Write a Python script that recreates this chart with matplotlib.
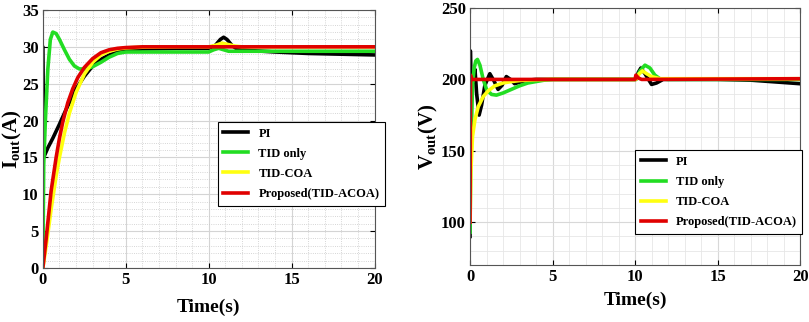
import numpy as np
import matplotlib.pyplot as plt
from matplotlib.ticker import MultipleLocator

plt.rcParams['font.family'] = 'Liberation Serif'
plt.rcParams['font.weight'] = 'bold'
plt.rcParams['mathtext.fontset'] = 'custom'
plt.rcParams['mathtext.rm'] = 'Liberation Serif:bold'
plt.rcParams['mathtext.bf'] = 'Liberation Serif:bold'
plt.rcParams['mathtext.it'] = 'Liberation Serif:bold'

labels = ['PI', 'TID only', 'TID-COA', 'Proposed(TID-ACOA)']
colors = ['black', '#22dd22', '#ffff10', '#e00000']

# --- I_out (A) ---
i_pi_t = [0, 0.001, 0.05, 0.3, 0.6, 1.0, 1.4, 2.0, 2.5, 3.0, 3.5, 4.0, 4.5, 5.0, 6, 8, 10.0,
          10.4, 10.7, 10.9, 11.1, 11.4, 11.7, 12.5, 14, 16, 18, 20]
i_pi_v = [30, 30, 15, 16.3, 17.6, 19.5, 21.5, 24.3, 26, 27.4, 28.3, 28.9, 29.3, 29.5, 29.7, 29.8, 29.8,
          30.2, 31.0, 31.3, 31.0, 30.2, 29.7, 29.5, 29.3, 29.1, 29.0, 28.9]
i_tid_t = [0, 0.05, 0.15, 0.3, 0.45, 0.6, 0.8, 1.0, 1.3, 1.6, 1.9, 2.2, 2.6, 3.0, 3.5, 4.0, 4.5, 5.0,
           6, 8, 10.0, 10.3, 10.6, 10.9, 11.2, 11.5, 12, 14, 20]
i_tid_v = [0, 14, 20, 27, 31, 32, 31.8, 31, 29.6, 28.3, 27.4, 27.0, 27.0, 27.3, 27.9, 28.6, 29.1, 29.3,
           29.3, 29.3, 29.3, 29.6, 29.8, 29.6, 29.4, 29.4, 29.4, 29.4, 29.4]
i_coa_t = [0, 0.2, 0.5, 0.8, 1.0, 1.3, 1.6, 2.0, 2.5, 3.0, 3.5, 4.0, 4.5, 5.0, 6.0, 8, 10.0,
           10.4, 10.8, 11.2, 11.6, 12, 20]
i_coa_v = [0, 3, 8, 12.5, 15, 18.3, 21, 23.8, 26.3, 27.9, 28.9, 29.4, 29.7, 29.85, 29.95, 30, 30,
           30.2, 30.5, 30.3, 30.1, 30, 30]
i_acoa_t = [0, 0.2, 0.5, 0.8, 1.0, 1.2, 1.5, 1.8, 2.1, 2.5, 3.0, 3.5, 4.0, 4.5, 5.0, 6, 10, 20]
i_acoa_v = [0, 4, 10.5, 15, 17.6, 19.8, 22.4, 24.3, 25.8, 27.2, 28.4, 29.2, 29.6, 29.8, 29.9, 30, 30, 30]

# --- V_out (V) ---
v_pi_t = [0, 0.02, 0.05, 0.12, 0.2, 0.3, 0.4, 0.55, 0.7, 0.9, 1.2, 1.45, 1.7, 1.95, 2.2, 2.45, 2.7,
          3.0, 3.5, 4, 10.05, 10.2, 10.35, 10.6, 11.0, 11.3, 11.7, 12.5, 15, 17, 20]
v_pi_v = [90, 220, 200, 196, 200, 207, 190, 175, 182, 196, 204, 199, 193, 196, 202, 200, 197,
          198, 199.5, 200, 200, 205, 208, 204, 196.5, 197.5, 200, 200, 200, 199.5, 197]
v_tid_t = [0, 0.05, 0.15, 0.25, 0.35, 0.45, 0.6, 0.8, 1.0, 1.3, 1.6, 2.0, 2.5, 3.0, 3.5, 4.0, 4.5, 5,
           10.05, 10.3, 10.6, 10.9, 11.2, 11.5, 12, 20]
v_tid_v = [93, 150, 195, 208, 213, 214, 210, 200, 193, 189.5, 189, 190.5, 193, 195.5, 197.5, 198.5, 199.5, 200,
           200, 206, 210, 208, 203, 200.5, 200, 200]
v_coa_t = [0, 0.05, 0.15, 0.3, 0.5, 0.8, 1.1, 1.5, 2.0, 2.5, 3.0, 4.0, 5.0,
           10.05, 10.25, 10.45, 10.7, 11.0, 11.5, 20]
v_coa_v = [100, 135, 160, 172, 181, 188, 192, 195.5, 197.5, 198.5, 199.2, 199.8, 200,
           200, 204, 206, 204, 202, 200.5, 200.5]
v_acoa_t = [0, 0.03, 0.08, 0.15, 10.0, 10.05, 10.2, 10.4, 20]
v_acoa_v = [100, 203, 200, 200, 200, 203, 201, 200, 200.5]

fig = plt.figure(figsize=(8.09, 3.22), dpi=100)
ax1 = fig.add_axes([0.053, 0.168, 0.410, 0.801])
ax2 = fig.add_axes([0.581, 0.177, 0.408, 0.798])

series_i = [(i_pi_t, i_pi_v), (i_tid_t, i_tid_v), (i_coa_t, i_coa_v), (i_acoa_t, i_acoa_v)]
series_v = [(v_pi_t, v_pi_v), (v_tid_t, v_tid_v), (v_coa_t, v_coa_v), (v_acoa_t, v_acoa_v)]

for (t, v), c, lab in zip(series_i, colors, labels):
    ax1.plot(t, v, color=c, lw=2.6, label=lab)
for (t, v), c, lab in zip(series_v, colors, labels):
    ax2.plot(t, v, color=c, lw=2.6, label=lab)

ax1.set_xlim(0, 20)
ax1.set_ylim(0, 35)
ax1.xaxis.set_major_locator(MultipleLocator(5))
ax1.xaxis.set_minor_locator(MultipleLocator(1))
ax1.yaxis.set_major_locator(MultipleLocator(5))
ax1.yaxis.set_minor_locator(MultipleLocator(1))
ax1.grid(True, which='major', color='#d4d4d4', lw=0.8)
ax1.grid(True, which='minor', color='#c8c8c8', lw=0.6, linestyle=':')
ax1.set_ylabel(r'$\mathrm{I_{out}(A)}$', fontsize=15)
ax1.yaxis.set_label_coords(-0.058, 0.5)
ax1.set_xlabel('Time(s)', fontsize=14, fontweight='bold', labelpad=8)

ax2.set_xlim(0, 20)
ax2.set_ylim(70, 250)
ax2.xaxis.set_major_locator(MultipleLocator(5))
ax2.xaxis.set_minor_locator(MultipleLocator(1))
ax2.yaxis.set_major_locator(MultipleLocator(50))
ax2.yaxis.set_minor_locator(MultipleLocator(10))
ax2.grid(True, which='major', color='#d8d8d8', lw=0.8)
ax2.grid(True, which='minor', color='#e6e6e6', lw=0.6)
ax2.set_ylabel(r'$\mathrm{V_{out}(V)}$', fontsize=15)
ax2.yaxis.set_label_coords(-0.092, 0.5)
ax2.set_xlabel('Time(s)', fontsize=14, fontweight='bold', labelpad=5)

for ax in (ax1, ax2):
    ax.set_axisbelow(True)
    ax.tick_params(which='both', direction='in', top=True, right=True, labelsize=12, pad=3)
    ax.tick_params(which='minor', length=0)
    for sp in ax.spines.values():
        sp.set_color('#555555')
        sp.set_linewidth(0.8)
    for lbl in ax.get_xticklabels() + ax.get_yticklabels():
        lbl.set_fontweight('bold')

leg1 = ax1.legend(loc='upper left', bbox_to_anchor=(0.527, 0.566), fontsize=9,
                  frameon=True, fancybox=False, edgecolor='black', framealpha=1,
                  handlelength=2.0, labelspacing=0.65, borderaxespad=0, borderpad=0.45)
leg2 = ax2.legend(loc='upper left', bbox_to_anchor=(0.5, 0.447), fontsize=9,
                  frameon=True, fancybox=False, edgecolor='black', framealpha=1,
                  handlelength=2.0, labelspacing=0.65, borderaxespad=0, borderpad=0.45)
for leg in (leg1, leg2):
    leg.get_frame().set_linewidth(0.8)
    for txt in leg.get_texts():
        txt.set_fontweight('bold')

fig.savefig('out.png', dpi=100)
